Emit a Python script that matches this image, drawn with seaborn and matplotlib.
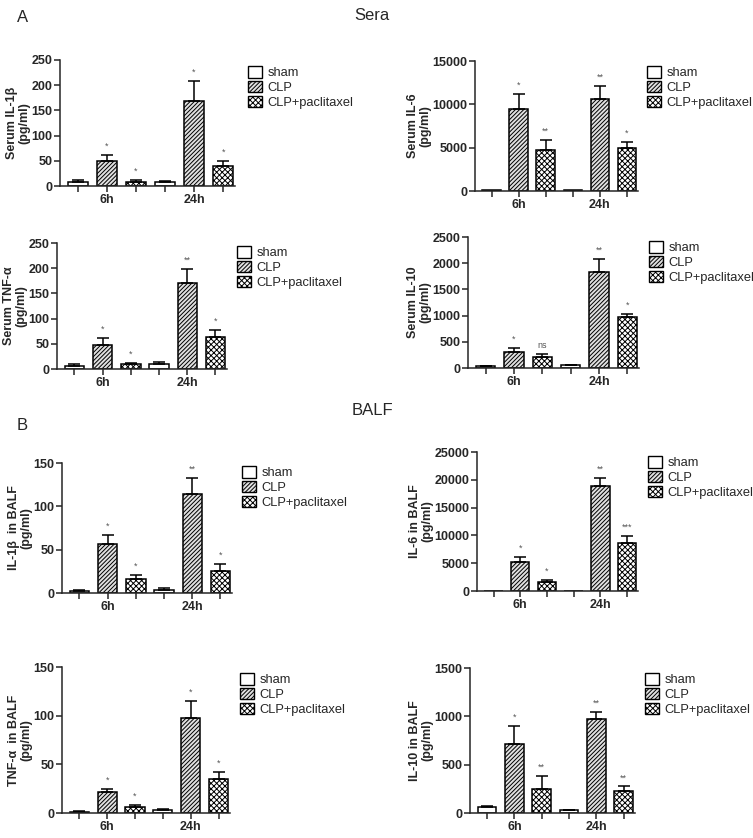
import matplotlib
matplotlib.use('Agg')
import matplotlib.pyplot as plt
import matplotlib.patches as mpatches
import seaborn as sns
import pandas as pd
import numpy as np

sns.set_style('ticks')
plt.rcParams['font.family'] = ['Liberation Sans', 'DejaVu Sans']
plt.rcParams['hatch.linewidth'] = 0.7

#%%
# Dados (linhas = grupo, colunas = tempo)
times = ['6h', '24h']
groups = ['sham', 'CLP', 'CLP+paclitaxel']

il1b_sera = [[8, 7], [50, 169], [8, 39]]
il1b_sera_err = [[4, 2], [12, 39], [4, 11]]
il1b_sera_sig = [['', ''], ['*', '*'], ['*', '*']]

il6_sera = [[60, 60], [9460, 10650], [4730, 5000]]
il6_sera_err = [[0, 0], [1730, 1460], [1150, 690]]
il6_sera_sig = [['', ''], ['*', '**'], ['**', '*']]

tnf_sera = [[6.6, 10.6], [48.5, 171], [10.6, 62.5]]
tnf_sera_err = [[2.5, 4], [12.5, 27], [2, 14.6]]
tnf_sera_sig = [['', ''], ['*', '**'], ['*', '*']]

il10_sera = [[32, 51], [312, 1838], [216, 967]]
il10_sera_err = [[15, 15], [70, 236], [57, 63]]
il10_sera_sig = [['', ''], ['*', '**'], ['ns', '*']]

il1b_balf = [[2.3, 3.8], [56.5, 114.6], [16.5, 25.4]]
il1b_balf_err = [[1, 1.5], [10.8, 18.5], [4.2, 8.4]]
il1b_balf_sig = [['', ''], ['*', '**'], ['*', '*']]

il6_balf = [[60, 60], [5170, 18810], [1560, 8590]]
il6_balf_err = [[0, 0], [1020, 1500], [420, 1380]]
il6_balf_sig = [['', ''], ['*', '**'], ['*', '***']]

tnf_balf = [[1.4, 3.1], [21.1, 97.9], [5.8, 35.1]]
tnf_balf_err = [[0.6, 1.3], [3.8, 17.3], [2.7, 7.2]]
tnf_balf_sig = [['', ''], ['*', '*'], ['*', '*']]

il10_balf = [[58, 27], [717, 968], [247, 227]]
il10_balf_err = [[17, 7], [182, 79], [134, 48]]
il10_balf_sig = [['', ''], ['*', '**'], ['**', '**']]

#%%
# Estilo
colors = {'sham': 'white', 'CLP': '#e0e0e0', 'CLP+paclitaxel': 'white'}
hatches = ['', '////////', 'xxxxxx']

W, H = 753, 838
fig = plt.figure(figsize=(W / 100, H / 100), dpi=100)

def rect(l, r, t, b):
    return [l / W, 1 - b / H, (r - l) / W, (b - t) / H]

panels = [
    (il1b_sera, il1b_sera_err, il1b_sera_sig, 'Serum IL-1β\n(pg/ml)', 250, 50, rect(60, 235, 60, 186), (248, 66)),
    (il6_sera, il6_sera_err, il6_sera_sig, 'Serum IL-6\n(pg/ml)', 15000, 5000, rect(475, 638, 61, 191), (647, 66)),
    (tnf_sera, tnf_sera_err, tnf_sera_sig, 'Serum TNF-α\n(pg/ml)', 250, 50, rect(57, 227, 243, 369), (237, 246)),
    (il10_sera, il10_sera_err, il10_sera_sig, 'Serum IL-10\n(pg/ml)', 2500, 500, rect(468, 639, 237, 368), (649, 241)),
    (il1b_balf, il1b_balf_err, il1b_balf_sig, 'IL-1β  in BALF\n(pg/ml)', 150, 50, rect(62, 232, 463, 593), (242, 466)),
    (il6_balf, il6_balf_err, il6_balf_sig, 'IL-6 in BALF\n(pg/ml)', 25000, 5000, rect(477, 638, 452, 591), (648, 456)),
    (tnf_balf, tnf_balf_err, tnf_balf_sig, 'TNF-α  in BALF\n(pg/ml)', 150, 50, rect(62, 230, 667, 813), (240, 673)),
    (il10_balf, il10_balf_err, il10_balf_sig, 'IL-10 in BALF\n(pg/ml)', 1500, 500, rect(470, 635, 668, 813), (645, 673)),
]

for mean, err, sig, ylabel, ymax, ystep, pos, leg in panels:
    ax = fig.add_axes(pos)
    df = pd.DataFrame([{'time': t, 'group': g, 'value': mean[i][j]}
                       for i, g in enumerate(groups) for j, t in enumerate(times)])
    sns.barplot(data=df, x='time', y='value', hue='group', order=times, hue_order=groups,
                width=1.0, gap=0.31, errorbar=None, palette=colors, saturation=1,
                edgecolor='black', linewidth=1.1, legend=False, ax=ax)

    centers = []
    bar_conts = list(ax.containers)[:3]
    for i, cont in enumerate(bar_conts):
        for j, bar in enumerate(cont):
            bar.set_hatch(hatches[i])
            x = bar.get_x() + bar.get_width() / 2
            h = bar.get_height()
            centers.append(x)
            if err[i][j] > 0:
                ax.errorbar(x, h, yerr=[[0], [err[i][j]]], fmt='none', ecolor='black',
                            elinewidth=1.1, capsize=4, capthick=1.1)
            if sig[i][j]:
                ax.annotate(sig[i][j], (x, h + err[i][j]), xytext=(0, 3), textcoords='offset points',
                            ha='center', va='bottom', fontsize=6.5, color='#555555')

    ax.set_xticks(sorted(centers), minor=True)
    ax.set_xlim(-0.54, 1.47)
    ax.set_ylim(0, ymax)
    ax.set_yticks(np.arange(0, ymax + 1, ystep))
    ax.set_xlabel('')
    ax.set_ylabel(ylabel, fontsize=9, fontweight='bold', labelpad=1, linespacing=1.0)
    ax.tick_params(which='both', direction='out', length=4, width=1.1, labelsize=9, pad=1.5)
    for lab in ax.get_xticklabels() + ax.get_yticklabels():
        lab.set_fontweight('bold')
    for s in ['left', 'bottom']:
        ax.spines[s].set_linewidth(1.1)
    sns.despine(ax=ax)

    handles = [mpatches.Patch(facecolor=colors[g], edgecolor='black', hatch=hatches[i], linewidth=1)
               for i, g in enumerate(groups)]
    ax.legend(handles, groups, loc='upper left', bbox_to_anchor=(leg[0] / W, 1 - leg[1] / H),
              bbox_transform=fig.transFigure, frameon=False, fontsize=9.3, handlelength=1.1,
              handleheight=1.0, handletextpad=0.4, labelspacing=0.12, borderpad=0, borderaxespad=0)

fig.text(17 / W, 1 - 17 / H, 'A', fontsize=12, va='center')
fig.text(372 / W, 1 - 15 / H, 'Sera', fontsize=12, ha='center', va='center')
fig.text(17 / W, 1 - 425 / H, 'B', fontsize=12, va='center')
fig.text(372 / W, 1 - 410 / H, 'BALF', fontsize=12, ha='center', va='center')

fig.savefig('out.png', dpi=100)
